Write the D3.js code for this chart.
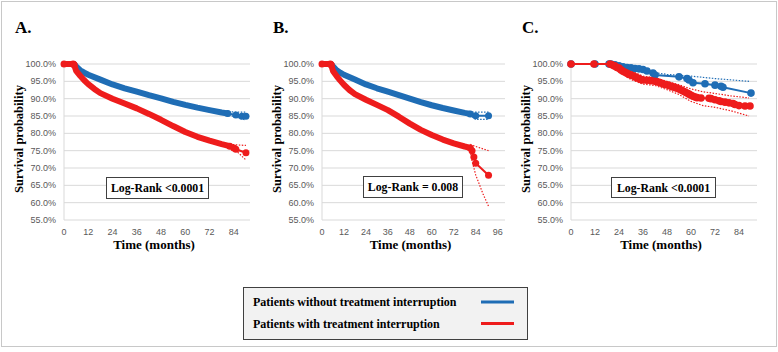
<!DOCTYPE html>
<html>
<head>
<meta charset="utf-8">
<script src="https://cdn.jsdelivr.net/npm/d3@7"></script>
<style>
  body { margin: 0; background: #fff; }
  svg { display: block; }
</style>
</head>
<body>
<svg id="chart" width="778" height="352"></svg>
<script>
// ---- data (month, survival %) ----
const yTicks = [55, 60, 65, 70, 75, 80, 85, 90, 95, 100];

// Panel A
const aNoInt = [[0,100],[5,100],[6,99.3],[8,98.2],[10,97.5],[12,96.9],[18,95.5],[24,94.1],[30,93],[36,92],[42,91],[48,90.1],[54,89.1],[60,88.2],[66,87.4],[72,86.7],[78,86],[81,85.7]];
const aNoIntTail = [[81,85.7],[85,85.3],[88,84.9],[90,84.9]];
const aInt = [[0,100],[4.5,100],[5,99.8],[6,98],[8,96.6],[10,95.3],[12,94.2],[15,92.8],[18,91.6],[24,90],[30,88.6],[36,87.2],[42,85.6],[48,83.9],[54,82.1],[60,80.4],[66,79],[72,77.9],[78,76.9],[82,76.3]];
const aIntTail = [[82,76.3],[84,75.8],[85,75.4],[90,74.4]];
const aNoIntUp = [[80,86.2],[90,86.1]];
const aNoIntLo = [[80,85.4],[84,84.9],[90,83.8]];
const aIntUp = [[82,76.8],[90,76.5]];
const aIntLo = [[82,75.8],[86,74.5],[90,72.3]];

// Panel B
const bNoInt = [[0,100],[5,100],[6,99.3],[8,98.2],[10,97.5],[12,96.9],[18,95.5],[24,94.1],[30,93],[36,92],[42,91],[48,90],[54,89],[60,88.1],[66,87.3],[72,86.6],[78,85.9],[81,85.6]];
const bNoIntTail = [[81,85.6],[84,85.1],[91,85.1]];
const bInt = [[0,100],[4.5,100],[5,99.8],[6,98],[8,96.5],[10,95.2],[12,94],[15,92.5],[18,91.3],[24,89.7],[30,88.2],[36,86.7],[42,84.8],[48,82.8],[54,81],[60,79.5],[66,78.2],[72,77.1],[78,76.2],[81,75.8]];
const bIntTail = [[81,75.8],[82,75],[83,73.2],[84,71.4],[91,67.9]];
const bNoIntUp = [[82,86.1],[91,86.1]];
const bNoIntLo = [[82,84.8],[84,84],[91,84]];
const bIntUp = [[81,76.8],[84,76.2],[91,75]];
const bIntLo = [[81,75],[82,72],[84,68],[88,62.5],[91,59]];

// Panel C
const cNoInt = [[0,100],[12,100],[19,100],[20,100],[22,99.8],[24,99.5],[26,99.2],[28,99],[30,98.9],[32,98.7],[34,98.6],[36,98.4],[38,98],[41,97.4],[42,96.8],[54,96.3],[58,95.8],[59,95.4],[61,94.6],[67,94.3],[72,93.9],[75,93.6],[76,93.3],[90,91.6]];
const cInt = [[0,100],[11.5,100],[19.5,100],[20.5,99.8],[21.5,99.5],[22,99.4],[23,99],[24,98.8],[25,98.3],[26,97.9],[27,97.6],[28,97.3],[29,97],[30,96.8],[31,96.6],[32,96.3],[33,96],[34,95.8],[35,95.5],[36,95.4],[38,95.3],[40,95.2],[42,95],[43,94.9],[44,94.7],[45,94.5],[46,94.3],[47,94.1],[48,94],[49,93.8],[50,93.6],[51,93.4],[52,93.2],[53,93],[54,92.8],[55,92.5],[56,92.2],[57,91.9],[58,91.6],[59,91.3],[60,91],[61,90.7],[62,90.5],[63,90.3],[65,90.2],[69,90.1],[70,90],[72,89.7],[74,89.4],[75,89.2],[77,89],[79,88.8],[81,88.6],[82,88.3],[84,88],[87,87.9],[89.5,87.9]];
const cNoIntUp = [[20,100],[24,99.8],[36,98.5],[42,97.5],[48,97],[60,96.5],[72,95.8],[89,95]];
const cIntUp = [[19,100],[24,99.3],[30,98],[36,96.5],[42,96],[48,95],[54,94],[60,92.8],[66,92],[72,91.5],[80,90.8],[89,90.2]];
const cIntLo = [[19,99.5],[24,97.8],[30,95.5],[36,94.2],[42,93.8],[48,92.6],[54,91.2],[60,89.2],[66,88],[72,87.5],[80,86.5],[89,85]];

const blue = "#1f6db5", red = "#ee1c1c";
const serif = "'Liberation Serif', 'Times New Roman', serif";
const sans = "'Liberation Sans', Arial, sans-serif";

const svg = d3.select("#chart");

// outer frame
svg.append("rect")
  .attr("x", 1.5).attr("y", 1.5).attr("width", 775).attr("height", 345)
  .attr("fill", "none").attr("stroke", "#c8c8c8");

const panels = [
  { letter: "A.", left: 64, right: 250, xMax: 92, xTicks: d3.range(0, 85, 12), logRank: "Log-Rank <0.0001", box: [106, 177, 102, 21],
    dense: [[aNoInt, blue], [aInt, red]], tails: [[aNoIntTail, blue], [aIntTail, red]],
    ci: [[aNoIntUp, blue], [aNoIntLo, blue], [aIntUp, red], [aIntLo, red]], sparse: [] },
  { letter: "B.", left: 322, right: 505, xMax: 100, xTicks: d3.range(0, 97, 12), logRank: "Log-Rank = 0.008", box: [363, 176, 99, 21],
    dense: [[bNoInt, blue], [bInt, red]], tails: [[bNoIntTail, blue], [bIntTail, red]],
    ci: [[bNoIntUp, blue], [bNoIntLo, blue], [bIntUp, red], [bIntLo, red]], sparse: [] },
  { letter: "C.", left: 571, right: 757, xMax: 93, xTicks: d3.range(0, 85, 12), logRank: "Log-Rank <0.0001", box: [611, 177, 104, 20],
    dense: [], tails: [],
    ci: [[cNoIntUp, blue], [cIntUp, red], [cIntLo, red]], sparse: [[cNoInt, blue], [cInt, red]] }
];

panels.forEach(p => {
  const g = svg.append("g");
  const x = d3.scaleLinear().domain([0, p.xMax]).range([p.left, p.right]);
  const y = d3.scaleLinear().domain([55, 100]).range([220, 64]);
  const line = d3.line().x(d => x(d[0])).y(d => y(d[1]));

  // grid lines
  g.selectAll(".grid").data(yTicks).enter().append("line")
    .attr("x1", p.left).attr("x2", p.right)
    .attr("y1", d => y(d)).attr("y2", d => y(d))
    .attr("stroke", "#d9d9d9").attr("stroke-width", 1);
  g.append("line")
    .attr("x1", p.left).attr("x2", p.left).attr("y1", y(100)).attr("y2", y(55))
    .attr("stroke", "#d9d9d9");

  // y tick labels
  g.selectAll(".ylab").data(yTicks).enter().append("text")
    .attr("x", p.left - 8).attr("y", d => y(d) + 3)
    .attr("text-anchor", "end")
    .style("font-family", sans).style("font-size", "9px").attr("fill", "#595959")
    .text(d => d3.format(".1f")(d) + "%");

  // x tick labels
  g.selectAll(".xlab").data(p.xTicks).enter().append("text")
    .attr("x", d => x(d)).attr("y", 235)
    .attr("text-anchor", "middle")
    .style("font-family", sans).style("font-size", "9px").attr("fill", "#595959")
    .text(d => d);

  // axis titles
  const cx = (p.left + p.right) / 2;
  g.append("text")
    .attr("x", cx - 3).attr("y", 249)
    .attr("text-anchor", "middle")
    .style("font-family", serif).style("font-size", "13px").style("font-weight", "bold")
    .text("Time (months)");
  g.append("text")
    .attr("transform", `translate(${p.left - 41},139) rotate(-90)`)
    .attr("text-anchor", "middle")
    .style("font-family", serif).style("font-size", "12.5px").style("font-weight", "bold")
    .text("Survival probability");

  // panel letter
  g.append("text")
    .attr("x", p.left - 49).attr("y", 33)
    .style("font-family", serif).style("font-size", "17px").style("font-weight", "bold")
    .text(p.letter);

  // confidence bands (dotted)
  p.ci.forEach(([d, c]) => {
    g.append("path").datum(d).attr("d", line)
      .attr("fill", "none").attr("stroke", c).attr("stroke-width", 1.2)
      .attr("stroke-dasharray", "1.5,1.5");
  });

  // dense KM curves: thick bands
  p.dense.forEach(([d, c], i) => {
    g.append("path").datum(d).attr("d", line)
      .attr("fill", "none").attr("stroke", c).attr("stroke-width", 6)
      .attr("stroke-linecap", "round").attr("stroke-linejoin", "round");
    const t = p.tails[i];
    g.append("path").datum(t[0]).attr("d", line)
      .attr("fill", "none").attr("stroke", c).attr("stroke-width", 2);
    g.selectAll(null).data(t[0]).enter().append("circle")
      .attr("cx", d => x(d[0])).attr("cy", d => y(d[1])).attr("r", 3.5).attr("fill", c);
    if (c === red) {
      g.selectAll(null).data(d.slice(0, 3)).enter().append("circle")
        .attr("cx", d => x(d[0])).attr("cy", d => y(d[1])).attr("r", 3.5).attr("fill", c);
    }
  });

  // sparse KM curves: line + markers
  p.sparse.forEach(([d, c]) => {
    g.append("path").datum(d).attr("d", line)
      .attr("fill", "none").attr("stroke", c).attr("stroke-width", 2);
    g.selectAll(null).data(d).enter().append("circle")
      .attr("cx", d => x(d[0])).attr("cy", d => y(d[1])).attr("r", 3.8).attr("fill", c);
  });

  // log-rank box
  const [bx, by, bw, bh] = p.box;
  g.append("rect").attr("x", bx + 0.5).attr("y", by + 0.5).attr("width", bw).attr("height", bh)
    .attr("fill", "#fff").attr("stroke", "#404040").attr("stroke-width", 1);
  g.append("text")
    .attr("x", bx + bw / 2 + 0.5).attr("y", by + bh / 2 + 4.5)
    .attr("text-anchor", "middle")
    .style("font-family", serif).style("font-size", "11.8px").style("font-weight", "bold")
    .text(p.logRank);
});

// legend
const legendItems = [
  { label: "Patients without treatment interruption", color: blue },
  { label: "Patients with treatment interruption", color: red }
];
const lg = svg.append("g");
lg.append("rect").attr("x", 243.5).attr("y", 287.5).attr("width", 284).attr("height", 52)
  .attr("fill", "#f2f2f2").attr("stroke", "#404040");
lg.selectAll(".li").data(legendItems).enter().append("text")
  .attr("x", 253).attr("y", (d, i) => 306 + i * 21.5)
  .style("font-family", serif).style("font-size", "12px").style("font-weight", "bold")
  .text(d => d.label);
lg.selectAll(".ll").data(legendItems).enter().append("line")
  .attr("x1", 481).attr("x2", 514)
  .attr("y1", (d, i) => 302 + i * 21.5).attr("y2", (d, i) => 302 + i * 21.5)
  .attr("stroke", d => d.color).attr("stroke-width", 3);
</script>
</body>
</html>
